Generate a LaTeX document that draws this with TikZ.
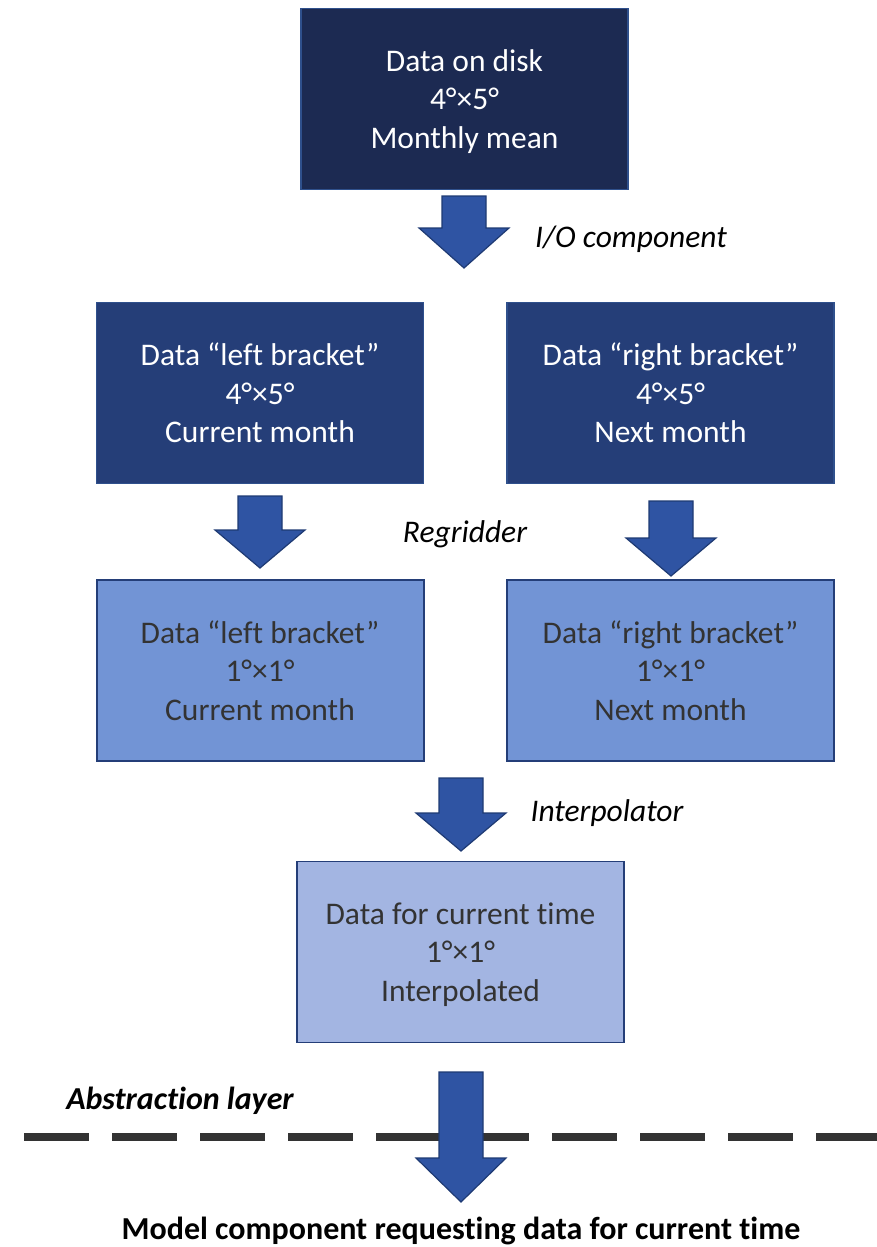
\documentclass[tikz,border=0pt]{standalone}
\usepackage{fontspec}
\setmainfont[RawFeature=-liga]{Carlito}
\definecolor{boxA}{RGB}{28,42,82}
\definecolor{boxB}{RGB}{37,62,120}
\definecolor{boxC}{RGB}{114,148,213}
\definecolor{boxD}{RGB}{163,181,226}
\definecolor{edgeA}{RGB}{47,80,140}
\definecolor{edgeC}{RGB}{36,62,120}
\definecolor{arrfill}{RGB}{47,84,163}
\definecolor{arredge}{RGB}{30,58,115}
\definecolor{darktext}{RGB}{51,51,51}
\newcommand\blockarr[4]{%
  \draw[arrowsty] ({#1-22},#2) -- ({#1+22},#2) -- ({#1+22},#3) -- ({#1+45},#3)
    -- (#1,#4) -- ({#1-45},#3) -- ({#1-22},#3) -- cycle;}
\newcommand\nodp[1]{\raisebox{0pt}[\height][0pt]{#1}}
\begin{document}
\begin{tikzpicture}[x=1pt,y=-1pt,
  txt/.style={font=\fontsize{31.5}{38.5}\selectfont, align=center},
  databox/.style={txt, rectangle, inner sep=0pt, minimum width=327pt, minimum height=181pt, line width=1.2pt},
  darkbox/.style={databox, fill=boxA, draw=edgeA, text=white},
  midbox/.style={databox, fill=boxB, draw=edgeA, text=white},
  lightbox/.style={databox, fill=boxC, draw=edgeC, line width=2pt, text=darktext},
  paleBox/.style={databox, fill=boxD, draw=edgeC, line width=1.5pt, text=darktext},
  lbl/.style={font=\fontsize{31.5}{38.5}\selectfont\itshape, text=black, inner sep=0pt},
  arrowsty/.style={fill=arrfill, draw=arredge, line width=1.2pt, line join=miter}
]
\useasboundingbox (0,0) rectangle (877,1247);

\node[darkbox] (disk) at (464.5,99) {Data on disk\\4°×5°\\\nodp{Monthly mean}};
\node[midbox] (leftA) at (260,393) {Data “left bracket”\\4°×5°\\Current month};
\node[midbox] (rightA) at (670.5,393) {Data “right bracket”\\4°×5°\\Next month};
\node[lightbox] (leftB) at (260,670.5) {Data “left bracket”\\1°×1°\\Current month};
\node[lightbox] (rightB) at (670.5,670.5) {Data “right bracket”\\1°×1°\\Next month};
\node[paleBox] (cur) at (460.5,952) {Data for current time\\1°×1°\\\nodp{Interpolated}};

\blockarr{464}{196}{228}{268}
\blockarr{260}{496}{530}{568}
\blockarr{671}{501}{538}{576}
\blockarr{461}{778}{813}{851}

\node[lbl] (io) at (631,239) {I/O component};
\node[lbl] (regrid) at (465,534) {Regridder};
\node[lbl] (interp) at (607,813) {Interpolator};

\coordinate (dl) at (24,1137);
\coordinate (dr) at (877,1137);
\draw[darktext, line width=8pt, dash pattern=on 65pt off 23pt] (dl) -- (dr);
\blockarr{461}{1072}{1158}{1202}

\node[lbl, font=\fontsize{32}{38.5}\selectfont\bfseries\itshape] (abs) at (180,1101) {Abstraction layer};
\node[txt, font=\fontsize{32}{38.5}\selectfont\bfseries, inner sep=0pt] (model) at (461,1231) {Model component requesting data for current time};
\end{tikzpicture}
\end{document}
